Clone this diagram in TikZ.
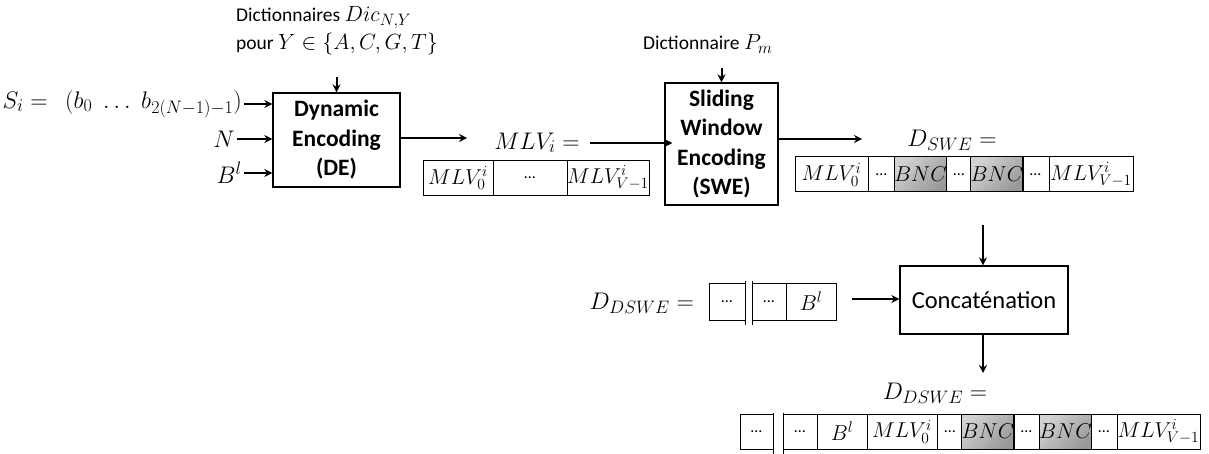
\RequirePackage{fix-cm}
\documentclass[tikz,border=0pt]{standalone}
\usepackage[no-math]{fontspec}
\setmainfont{Carlito}
\usetikzlibrary{arrows.meta}
\DeclareMathSizes{19.5}{22}{16.5}{12}
\DeclareMathSizes{21.5}{21.5}{15.5}{11}
\DeclareMathSizes{24}{24}{18}{13}
\tikzset{
  lbl/.style={font=\fontsize{19.5}{28}\selectfont, inner sep=0pt},
  mth/.style={font=\fontsize{24}{28}\selectfont, inner sep=2pt},
  blk/.style={draw, line width=1.3pt, align=center, inner sep=0pt, font=\bfseries\fontsize{23.5}{29.5}\selectfont},
  cell/.style={draw, line width=1pt, inner sep=0pt, minimum height=35pt, font=\fontsize{21.5}{26}\selectfont},
  dcell/.style={cell, font=\fontsize{16}{20}\selectfont},
  bnc/.style={cell, top color=gray!35, bottom color=gray!80, shading angle=45},
  arr/.style={-{Stealth[length=8pt,width=8pt]}, line width=2pt},
  bar/.style={line width=1pt}
}
\begin{document}
\begin{tikzpicture}[x=1pt,y=-1pt]
\useasboundingbox (0,0) rectangle (1209,454);
% top-left label
\node[lbl, align=left, anchor=west] (dic) at (236,31) {Dictionnaires $Dic_{N,Y}$\\pour $Y\in\{A,C,G,T\}$};
\coordinate (dicarr) at (336.5,77);
% DE block
\node[blk, minimum width=127pt, minimum height=94pt] (de) at (336.5,140) {Dynamic\\Encoding\\(DE)};
\draw[arr] (dicarr) -- (de.north);
% inputs
\node[mth, anchor=east] (si) at (244,104) {$S_i=\ \ (b_0\;\ldots\; b_{2(N-1)-1})$};
\node[mth, anchor=east] (nn) at (237,139) {$N$};
\node[mth, anchor=east] (bl) at (244,173) {$B^l$};
\draw[arr] (si.east) -- (si.east -| de.west);
\draw[arr] (nn.east) -- (nn.east -| de.west);
\draw[arr] (bl.east) -- (bl.east -| de.west);
% DE output
\coordinate (deout) at (467,138);
\draw[arr] (deout -| de.east) -- (deout);
\node[mth] (mlvl) at (537,143) {$MLV_i=$};
% MLV array
\node[cell, minimum width=70pt] (m1) at (458,178) {$MLV_0^i$};
\node[dcell, minimum width=74pt] (m2) at (530,178) {…};
\node[cell, minimum width=82pt] (m3) at (608,178) {$MLV_{V-1}^i$};
% SWE block
\node[lbl, anchor=west] (pm) at (643,44) {Dictionnaire $P_m$};
\coordinate (pmarr) at (721.5,68);
\node[blk, minimum width=113pt, minimum height=122pt] (swe) at (721.5,144) {Sliding\\Window\\Encoding\\(SWE)};
\draw[arr] (pmarr) -- (swe.north);
\draw[arr] ([xshift=8pt]mlvl.east) -- ([xshift=8pt]mlvl.east -| swe.west);
% SWE output
\coordinate (sweout) at (862,139);
\draw[arr] (sweout -| swe.east) -- (sweout);
\node[mth] (dswe) at (952,140) {$D_{SWE}=$};
% D_SWE array
\node[cell, minimum width=73pt] (s1) at (831.5,174.5) {$MLV_0^i$};
\node[dcell, minimum width=27pt] (s2) at (881.5,174.5) {…};
\node[bnc, minimum width=51pt] (s3) at (920.5,174.5) {$BNC$};
\node[dcell, minimum width=26pt] (s4) at (959,174.5) {…};
\node[bnc, minimum width=50pt] (s5) at (997,174.5) {$BNC$};
\node[dcell, minimum width=27pt] (s6) at (1035.5,174.5) {…};
\node[cell, minimum width=84pt] (s7) at (1091,174.5) {$MLV_{V-1}^i$};
% Concatenation
\node[draw, line width=1.3pt, minimum width=168pt, minimum height=68pt, font=\fontsize{24.5}{29}\selectfont] (cat) at (984,300) {Concaténation};
\coordinate (cin) at (983,225);
\draw[arr] (cin) -- (cin |- cat.north);
% D_DSWE left
\node[mth, anchor=east] (ddl) at (696,303) {$D_{DSWE}=$};
\node[dcell, minimum width=36pt, minimum height=37pt] (d1) at (727,301.5) {…};
\node[dcell, minimum width=34pt, minimum height=37pt] (d2) at (769,301.5) {…};
\node[cell, minimum width=50pt, minimum height=37pt] (d3) at (811,301.5) {$B^l$};
\draw[bar] (745,281) -- (745,325);
\draw[bar] (752,281) -- (752,325);
\coordinate (ddin) at (852,299);
\draw[arr] (ddin) -- (ddin -| cat.west);
% output
\coordinate (cout) at (983,373);
\draw[arr] (cat.south -| cout) -- (cout);
\node[mth] (ddb) at (935,393) {$D_{DSWE}=$};
% bottom array
\node[dcell, minimum width=33pt] (b1) at (756.5,431.5) {…};
\node[dcell, minimum width=34pt] (b2) at (800,431.5) {…};
\node[cell, minimum width=50pt] (b3) at (842,431.5) {$B^l$};
\node[cell, minimum width=70pt] (b4) at (902,431.5) {$MLV_0^i$};
\node[dcell, minimum width=26pt] (b5) at (950,431.5) {…};
\node[bnc, minimum width=50pt] (b6) at (988,431.5) {$BNC$};
\node[dcell, minimum width=27pt] (b7) at (1026.5,431.5) {…};
\node[bnc, minimum width=51pt] (b8) at (1065.5,431.5) {$BNC$};
\node[dcell, minimum width=26pt] (b9) at (1104,431.5) {…};
\node[cell, minimum width=83pt] (b10) at (1158.5,431.5) {$MLV_{V-1}^i$};
\draw[bar] (773,413) -- (773,454);
\draw[bar] (783,413) -- (783,454);
\end{tikzpicture}
\end{document}
